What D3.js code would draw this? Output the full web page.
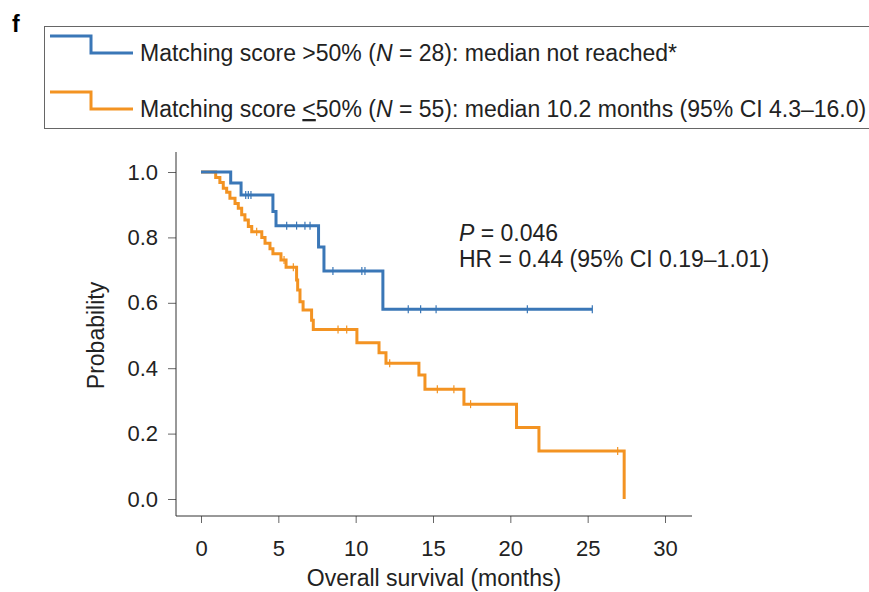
<!DOCTYPE html>
<html>
<head>
<meta charset="utf-8">
<script src="https://cdn.jsdelivr.net/npm/d3@7"></script>
<style>
  body { margin: 0; background: #fff; }
  svg { font-family: "Liberation Sans", Arial, sans-serif; }
</style>
</head>
<body>
<div id="chart"></div>
<script>
// survival steps: [months, probability after the event]
const highSteps = [[0, 1], [1.92, 0.966], [2.59, 0.93], [4.65, 0.879], [4.85, 0.836],
  [7.6, 0.771], [7.95, 0.697], [11.76, 0.58], [25.3, 0.58]];
const highCensor = [2.89, 3.06, 3.23, 5.54, 6.18, 6.72, 7.05, 8.53, 10.4, 10.6,
  13.4, 14.2, 15.2, 21.1, 25.3];

const lowSteps = [[0, 1], [0.95, 0.983], [1.22, 0.968], [1.44, 0.95], [1.66, 0.938],
  [1.87, 0.92], [2.2, 0.904], [2.41, 0.889], [2.63, 0.869], [2.84, 0.853], [3.06, 0.833],
  [3.28, 0.817], [3.93, 0.8], [4.14, 0.782], [4.46, 0.765], [4.65, 0.75], [5.17, 0.731],
  [5.5, 0.709], [6.18, 0.67], [6.25, 0.639], [6.4, 0.603], [6.6, 0.578], [7.15, 0.547],
  [7.26, 0.518], [10.08, 0.478], [11.51, 0.447], [11.96, 0.415], [14.09, 0.379],
  [14.48, 0.336], [17.0, 0.29], [20.4, 0.219], [21.85, 0.147], [27.36, 0]];
const lowCensor = [3.6, 5.37, 5.97, 8.86, 9.42, 12.2, 15.28, 16.35, 17.43, 26.94];

const xTicks = [0, 5, 10, 15, 20, 25, 30];
const yTicks = [0, 0.2, 0.4, 0.6, 0.8, 1.0];

const legendLabels = [
  { color: "#3a77b7", parts: [["Matching score >50% ("], ["N", "italic"], [" = 28): median not reached*"]] },
  { color: "#f39322", parts: [["Matching score "], ["<", "under"], ["50% ("], ["N", "italic"], [" = 55): median 10.2 months (95% CI 4.3\u201316.0)"]] }
];

const width = 869, height = 592;
const svg = d3.select("#chart").append("svg")
  .attr("width", width).attr("height", height);

const x = d3.scaleLinear().domain([0, 30]).range([201, 665]);
const y = d3.scaleLinear().domain([0, 1]).range([499, 172]);

// panel letter
svg.append("text").attr("x", 12).attr("y", 32)
  .style("font-size", "23px").style("font-weight", "bold").text("f");

// legend box
svg.append("rect").attr("x", 44.5).attr("y", 26.5).attr("width", 840).attr("height", 102)
  .attr("fill", "none").attr("stroke", "#666").attr("stroke-width", 1);

legendLabels.forEach((d, i) => {
  const top = 36 + i * 56;
  svg.append("path")
    .attr("d", `M50,${top}H91V${top + 17}H133`)
    .attr("fill", "none").attr("stroke", d.color).attr("stroke-width", 3);
  const t = svg.append("text").attr("x", 140).attr("y", top + 25)
    .style("font-size", "23px").attr("fill", "#222");
  d.parts.forEach(p => {
    const s = t.append("tspan").text(p[0]);
    if (p[1] === "italic") s.style("font-style", "italic");
    if (p[1] === "under") s.style("text-decoration", "underline");
  });
});

// axes
const yAxis = svg.append("g").attr("transform", "translate(176,0)")
  .call(d3.axisLeft(y).tickValues(yTicks).tickFormat(d3.format(".1f")).tickSize(8).tickPadding(10));
const xAxis = svg.append("g").attr("transform", "translate(0,516)")
  .call(d3.axisBottom(x).tickValues(xTicks).tickSize(7).tickPadding(17));
[yAxis, xAxis].forEach(g => {
  g.select(".domain").remove();
  g.selectAll("line").attr("stroke", "#666");
  g.selectAll("text").style("font-size", "22px").attr("fill", "#222")
    .style("font-family", "'Liberation Sans', Arial, sans-serif");
});
svg.append("line").attr("x1", 176).attr("x2", 176).attr("y1", y(1) - 20).attr("y2", 516)
  .attr("stroke", "#333");
svg.append("line").attr("x1", 176).attr("x2", x(30) + 27).attr("y1", 516).attr("y2", 516)
  .attr("stroke", "#333");

svg.append("text").attr("x", 434).attr("y", 586).attr("text-anchor", "middle")
  .style("font-size", "23px").attr("fill", "#222").text("Overall survival (months)");
svg.append("text").attr("transform", `translate(104,${y(0.5)}) rotate(-90)`)
  .attr("text-anchor", "middle").style("font-size", "23px").attr("fill", "#222")
  .text("Probability");

// curves
const line = d3.line().x(d => x(d[0])).y(d => y(d[1])).curve(d3.curveStepAfter);
function survAt(steps, t) {
  let s = steps[0][1];
  steps.forEach(d => { if (d[0] <= t) s = d[1]; });
  return s;
}
[[lowSteps, lowCensor, legendLabels[1].color], [highSteps, highCensor, legendLabels[0].color]]
  .forEach(([steps, cens, color]) => {
    svg.append("path").datum(steps).attr("d", line)
      .attr("fill", "none").attr("stroke", color).attr("stroke-width", 3);
    svg.append("g").selectAll("line").data(cens).join("line")
      .attr("x1", d => x(d)).attr("x2", d => x(d))
      .attr("y1", d => y(survAt(steps, d)) - 4).attr("y2", d => y(survAt(steps, d)) + 4)
      .attr("stroke", color).attr("stroke-width", 1.2);
  });

// statistics
const stats = svg.append("text").attr("x", 459).attr("y", 241)
  .style("font-size", "23px").attr("fill", "#222");
stats.append("tspan").style("font-style", "italic").text("P");
stats.append("tspan").text(" = 0.046");
svg.append("text").attr("x", 459).attr("y", 267).style("font-size", "23px").attr("fill", "#222")
  .text("HR = 0.44 (95% CI 0.19\u20131.01)");
</script>
</body>
</html>
